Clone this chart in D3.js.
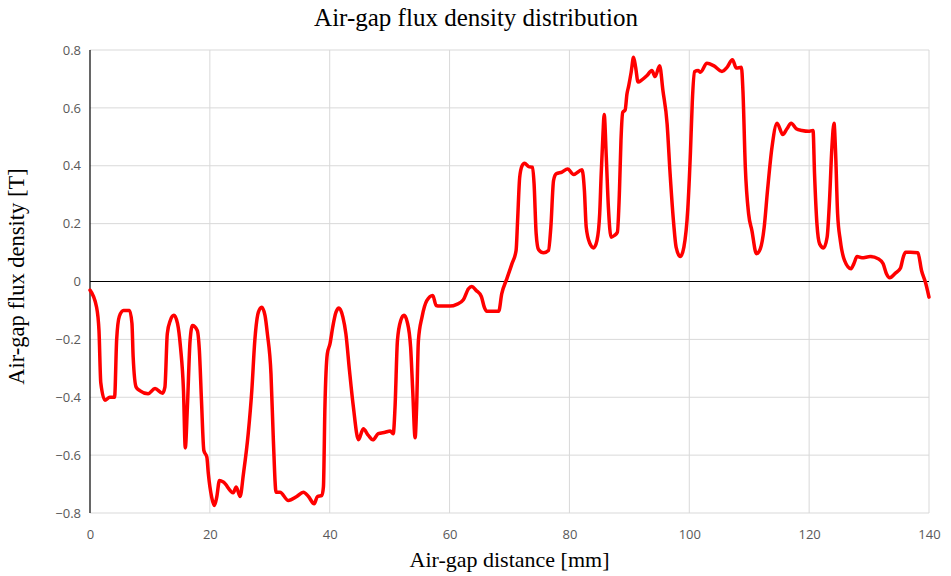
<!DOCTYPE html>
<html>
<head>
<meta charset="utf-8">
<script src="https://cdn.jsdelivr.net/npm/d3@7"></script>
<style>
  body { margin: 0; background: #fff; }
  svg { display: block; }
</style>
</head>
<body>
<svg id="chart" width="951" height="576"></svg>
<script>
const titleText = "Air-gap flux density distribution";
const xTitle = "Air-gap distance [mm]";
const yTitle = "Air-gap flux density [T]";
const xTicks = [0, 20, 40, 60, 80, 100, 120, 140];
const yTicks = [-0.8, -0.6, -0.4, -0.2, 0, 0.2, 0.4, 0.6, 0.8];

const xs = [0, 1.1, 1.5, 1.8, 2.5, 3.3, 4.1, 4.45, 4.9, 5.6, 6.6, 7.0, 7.2, 7.7, 8.3, 9.7, 10.85, 12.1, 12.5, 12.9, 13.4, 14.0, 14.6, 15.1, 15.6, 15.9, 16.25, 16.7, 17.1, 17.9, 18.25, 18.6, 19.0, 19.5, 19.75, 20.3, 20.75, 21.15, 21.6, 22.25, 23.9, 24.4, 25.05, 25.6, 26.4, 27.0, 27.5, 28.1, 28.65, 29.2, 29.6, 30.2, 30.6, 31.05, 31.7, 33.1, 34.5, 35.6, 36.45, 37.4, 37.95, 38.7, 38.95, 39.2, 39.6, 40.05, 40.5, 41.05, 41.55, 42.2, 42.7, 43.3, 43.95, 44.8, 45.6, 46.45, 47.2, 48.1, 49.25, 50.1, 50.6, 50.9, 51.3, 51.85, 52.4, 52.95, 53.5, 53.85, 54.25, 54.5, 54.8, 55.4, 56.2, 57.2, 57.75, 58.4, 60.1, 61.2, 62.3, 63.15, 63.7, 64.45, 65.3, 65.8, 66.2, 68.2, 68.7, 69.55, 70.4, 71.1, 71.35, 71.7, 72.1, 72.5, 73.2, 73.85, 74.1, 74.45, 74.85, 75.7, 76.5, 76.9, 77.35, 77.8, 78.75, 79.7, 80.7, 82.1, 82.5, 82.8, 83.4, 84.05, 84.6, 85.05, 85.3, 85.6, 85.8, 86.15, 86.5, 86.95, 87.5, 88.0, 88.35, 88.6, 88.9, 89.3, 89.6, 89.9, 90.3, 90.7, 91.05, 91.45, 92.1, 92.95, 93.75, 94.3, 95.05, 95.6, 96.3, 96.8, 97.4, 97.8, 98.5, 99.1, 99.75, 100.2, 100.5, 100.85, 101.5, 101.85, 102.95, 104.05, 105.45, 106.3, 107.2, 107.85, 108.7, 108.95, 109.35, 109.9, 110.45, 111.2, 111.85, 112.5, 113.05, 113.8, 114.65, 115.6, 116.3, 117.0, 117.85, 118.8, 119.9, 120.65, 120.9, 121.3, 121.75, 122.4, 123.0, 123.4, 123.8, 124.15, 124.4, 124.75, 125.2, 125.9, 127.0, 127.45, 128.0, 128.8, 130.2, 131.6, 132.35, 132.9, 133.45, 134.4, 135.25, 135.7, 136.1, 136.9, 138.15, 138.75, 139.45, 140];
const ys = [-0.03, -0.089, -0.17, -0.35, -0.41, -0.40, -0.40, -0.20, -0.12, -0.10, -0.10, -0.145, -0.26, -0.365, -0.377, -0.388, -0.37, -0.386, -0.365, -0.18, -0.135, -0.117, -0.145, -0.227, -0.377, -0.575, -0.434, -0.204, -0.152, -0.169, -0.238, -0.41, -0.584, -0.607, -0.665, -0.745, -0.774, -0.745, -0.688, -0.693, -0.73, -0.71, -0.743, -0.665, -0.526, -0.377, -0.204, -0.106, -0.089, -0.117, -0.181, -0.319, -0.55, -0.728, -0.728, -0.757, -0.743, -0.728, -0.743, -0.768, -0.743, -0.739, -0.71, -0.434, -0.25, -0.215, -0.158, -0.106, -0.092, -0.123, -0.181, -0.308, -0.434, -0.547, -0.509, -0.532, -0.547, -0.526, -0.521, -0.517, -0.526, -0.434, -0.204, -0.135, -0.117, -0.141, -0.227, -0.377, -0.54, -0.434, -0.204, -0.123, -0.066, -0.048, -0.083, -0.085, -0.085, -0.079, -0.063, -0.025, -0.017, -0.031, -0.052, -0.089, -0.103, -0.103, -0.043, 0.009, 0.061, 0.107, 0.21, 0.36, 0.40, 0.409, 0.397, 0.395, 0.338, 0.165, 0.11, 0.099, 0.107, 0.188, 0.349, 0.372, 0.378, 0.389, 0.37, 0.386, 0.314, 0.188, 0.132, 0.116, 0.142, 0.234, 0.372, 0.51, 0.577, 0.43, 0.257, 0.153, 0.159, 0.17, 0.314, 0.487, 0.585, 0.593, 0.648, 0.677, 0.723, 0.775, 0.74, 0.689, 0.697, 0.712, 0.729, 0.708, 0.746, 0.66, 0.545, 0.372, 0.199, 0.119, 0.086, 0.119, 0.25, 0.45, 0.62, 0.725, 0.729, 0.723, 0.754, 0.746, 0.726, 0.74, 0.766, 0.738, 0.74, 0.66, 0.395, 0.234, 0.176, 0.096, 0.113, 0.188, 0.314, 0.464, 0.547, 0.508, 0.528, 0.547, 0.528, 0.522, 0.519, 0.522, 0.372, 0.199, 0.13, 0.116, 0.153, 0.28, 0.464, 0.547, 0.453, 0.234, 0.142, 0.073, 0.044, 0.061, 0.086, 0.082, 0.086, 0.078, 0.061, 0.027, 0.013, 0.029, 0.047, 0.084, 0.101, 0.101, 0.099, 0.038, -0.006, -0.054];

const data = xs.map((x, i) => ({ x, y: ys[i] }));

const svg = d3.select("#chart");
const m = { left: 90, right: 951 - 929, top: 50, bottom: 576 - 513 };
const W = 951, H = 576;

const x = d3.scaleLinear().domain([0, 140]).range([m.left, W - m.right]);
const y = d3.scaleLinear().domain([-0.8, 0.8]).range([H - m.bottom, m.top]);

// gridlines
svg.append("g").selectAll("line.h").data(yTicks).join("line")
  .attr("x1", x(0)).attr("x2", x(140))
  .attr("y1", d => y(d)).attr("y2", d => y(d))
  .attr("stroke", "#d9d9d9").attr("stroke-width", 1);
svg.append("g").selectAll("line.v").data(xTicks.filter(d => d !== 0)).join("line")
  .attr("x1", d => x(d)).attr("x2", d => x(d))
  .attr("y1", y(0.8)).attr("y2", y(-0.8))
  .attr("stroke", "#d9d9d9").attr("stroke-width", 1);

// zero line
svg.append("line").attr("x1", x(0)).attr("x2", x(140))
  .attr("y1", y(0)).attr("y2", y(0)).attr("stroke", "#000").attr("stroke-width", 1);
// left axis line
svg.append("line").attr("x1", x(0)).attr("x2", x(0))
  .attr("y1", y(0.8)).attr("y2", y(-0.8)).attr("stroke", "#000").attr("stroke-width", 1.2);

// axes tick labels via d3 axes
const tickFont = "'Liberation Sans Narrow', 'Arial Narrow', 'Open Sans', sans-serif";
const fmtY = d => (d < 0 ? "\u2212" : "") + Math.abs(d).toFixed(1);
const yAxis = svg.append("g").attr("transform", `translate(${x(0) - 9},0)`)
  .call(d3.axisLeft(y).tickValues(yTicks).tickSize(0).tickPadding(0)
    .tickFormat(d => d === 0 ? "0" : fmtY(d)));
yAxis.select(".domain").remove();
yAxis.selectAll("text").attr("font-family", tickFont).attr("font-size", 13).attr("fill", "#595959");

const xAxis = svg.append("g").attr("transform", `translate(0,${y(-0.8) + 17})`)
  .call(d3.axisBottom(x).tickValues(xTicks).tickSize(0).tickPadding(0));
xAxis.select(".domain").remove();
xAxis.selectAll("text").attr("font-family", tickFont).attr("font-size", 13).attr("fill", "#595959");

// line
const line = d3.line().x(d => x(d.x)).y(d => y(d.y)).curve(d3.curveMonotoneX);
svg.append("path").datum(data).attr("d", line)
  .attr("fill", "none").attr("stroke", "#ff0000").attr("stroke-width", 3.5)
  .attr("stroke-linejoin", "round").attr("stroke-linecap", "round");

// titles
const serif = "'Liberation Serif', 'Times New Roman', serif";
svg.append("text").attr("x", 476).attr("y", 26).attr("text-anchor", "middle")
  .attr("font-family", serif).attr("font-size", 25).attr("fill", "#000").text(titleText);
svg.append("text").attr("x", (x(0) + x(140)) / 2).attr("y", 567).attr("text-anchor", "middle")
  .attr("font-family", serif).attr("font-size", 22).attr("fill", "#000").text(xTitle);
svg.append("text").attr("transform", `translate(24,${y(0) - 5}) rotate(-90)`).attr("text-anchor", "middle")
  .attr("font-family", serif).attr("font-size", 22.5).attr("fill", "#000").text(yTitle);
</script>
</body>
</html>
